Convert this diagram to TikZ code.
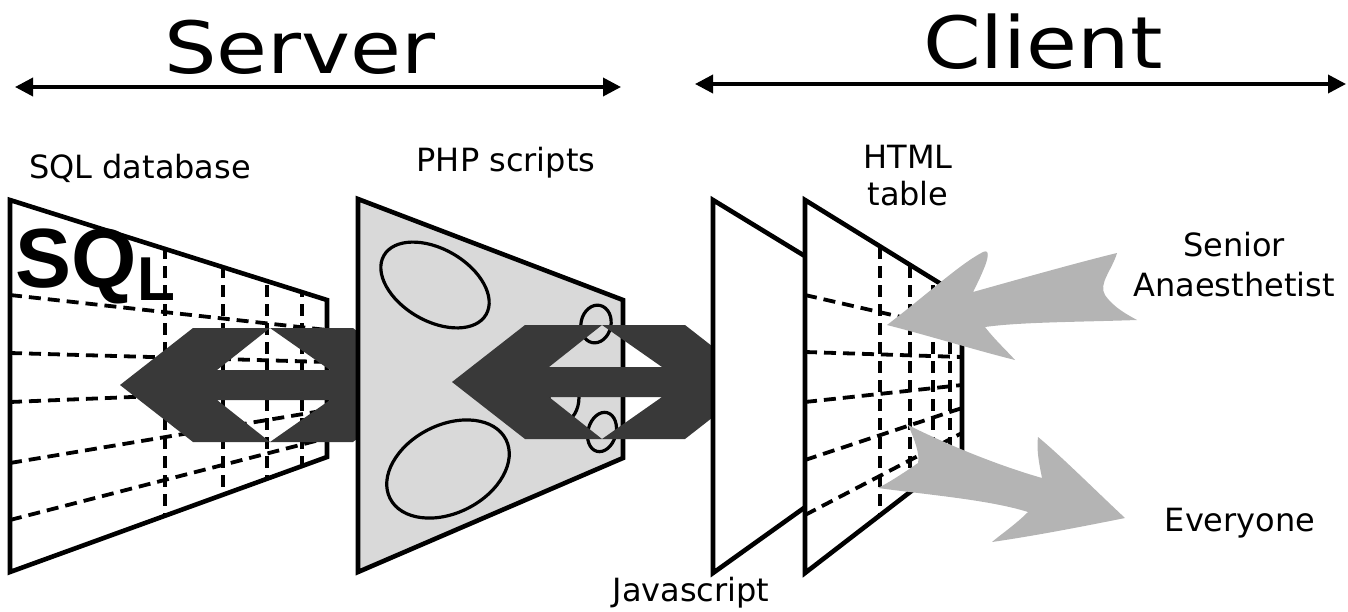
\documentclass[tikz,border=0pt]{standalone}
\usepackage{fontspec}
\setmainfont{DejaVu Sans}
\newfontfamily\headfont[FakeStretch=1.15]{DejaVu Sans}
\newfontfamily\logofont{Liberation Sans}
\usetikzlibrary{arrows.meta}
\definecolor{phpgray}{HTML}{D9D9D9}
\definecolor{darkarrow}{HTML}{393939}
\definecolor{lightarrow}{HTML}{B4B4B4}
\tikzset{
  twinarrow/.pic={
    \fill[darkarrow] (0,0) -- (73,-57) -- (150,-57) -- (97,-15) -- (210,-15) -- (150,-57)
      -- (233,-57) -- (306,0) -- (233,57) -- (150,57) -- (210,15) -- (97,15) -- (150,57)
      -- (73,57) -- cycle;
  }
}
\begin{document}
\begin{tikzpicture}[x=0.5pt,y=-0.5pt,
    panel/.style={draw=black,line width=2.3pt,line join=miter},
    gridline/.style={dash pattern=on 6pt off 3.5pt,line width=1.9pt},
    ring/.style={line width=1.6pt},
    label/.style={font=\fontsize{16}{19}\selectfont,align=center},
    span/.style={{Triangle[length=9pt,width=9pt]}-{Triangle[length=9pt,width=9pt]},line width=1.8pt}]
  \useasboundingbox (0,0) rectangle (1348,611);
  %% SQL database
  \fill[white] (10,200) -- (327,300) -- (327,457) -- (10,572) -- cycle;
  \begin{scope}
    \clip (10,200) -- (327,300) -- (327,457) -- (10,572) -- cycle;
    \foreach \l/\r in {295/330,353/362,402/389,463/410,520/438}
      \draw[gridline] (10,\l) -- (327,\r);
    \foreach \x in {165,223,267,302}
      \draw[gridline] (\x,190) -- (\x,580);
  \end{scope}
  \draw[panel] (10,200) -- (327,300) -- (327,457) -- (10,572) -- cycle;
  \node[anchor=base west,inner sep=0pt,font=\logofont\bfseries\fontsize{42}{42}\selectfont] (sqlSQ) at (15,287) {SQ};
  \node[anchor=base west,inner sep=0pt,font=\logofont\bfseries\fontsize{31}{31}\selectfont] (sqlL) at (137,300) {L};
  \pic at (120,385) {twinarrow};
  %% PHP scripts
  \draw[panel,fill=phpgray] (358,199) -- (623,300) -- (623,458) -- (358,572) -- cycle;
  \draw[ring,rotate around={-30:(435,285)}] (435,285) ellipse [x radius=59,y radius=36];
  \draw[ring,rotate around={27:(448,469)}] (448,469) ellipse [x radius=65,y radius=44];
  \draw[ring,rotate around={-12:(596,324)}] (596,324) ellipse [x radius=15,y radius=19];
  \draw[ring,rotate around={-15:(602,432)}] (602,432) ellipse [x radius=14,y radius=20];
  \draw[ring] (564,397) ellipse [x radius=15,y radius=24];
  \pic at (452,382) {twinarrow};
  %% Javascript and HTML table
  \draw[panel,fill=white] (713,200) -- (885,305) -- (885,450) -- (713,573) -- cycle;
  \fill[white] (805,200) -- (962,297) -- (962,452) -- (805,573) -- cycle;
  \begin{scope}
    \clip (805,200) -- (962,297) -- (962,452) -- (805,573) -- cycle;
    \foreach \l/\r in {295/331,352/357,402/385,460/408,515/433}
      \draw[gridline] (805,\l) -- (962,\r);
    \foreach \x in {880,910,933,950}
      \draw[gridline] (\x,190) -- (\x,580);
  \end{scope}
  \draw[panel] (805,200) -- (962,297) -- (962,452) -- (805,573) -- cycle;
  %% Users
  \fill[lightarrow] (887,325) .. controls (930,292) and (960,264) .. (983,252)
    .. controls (990,249) and (988,258) .. (985,266) .. controls (980,278) .. (973,292)
    .. controls (1030,276) and (1080,262) .. (1117,253)
    .. controls (1112,270) and (1098,284) .. (1105,295)
    .. controls (1114,308) and (1128,315) .. (1137,320)
    .. controls (1080,322) and (1020,322) .. (985,327)
    .. controls (995,340) and (1008,352) .. (1015,360)
    .. controls (975,350) and (930,336) .. cycle;
  \fill[lightarrow] (908,425) .. controls (915,440) and (920,455) .. (918,463)
    .. controls (905,472) and (890,482) .. (878,488)
    .. controls (930,495) and (990,500) .. (1028,512)
    .. controls (1015,525) and (1000,535) .. (992,542)
    .. controls (1040,535) and (1090,525) .. (1125,518)
    .. controls (1095,490) and (1060,455) .. (1038,437)
    .. controls (1036,450) and (1040,468) .. (1042,478)
    .. controls (1000,466) and (950,446) .. cycle;
  %% Labels
  \node[font=\headfont\fontsize{36}{40}\selectfont] (server) at (300,47) {Server};
  \node[font=\headfont\fontsize{36}{40}\selectfont] (client) at (1043,42) {Client};
  \coordinate (srvL) at (15,87);
  \coordinate (srvR) at (621,87);
  \coordinate (cliL) at (695,84);
  \coordinate (cliR) at (1346,84);
  \draw[span] (srvL) -- (srvR);
  \draw[span] (cliL) -- (cliR);
  \node[label] (sqllbl) at (140,168) {SQL database};
  \node[label] (phplbl) at (506,163) {PHP scripts};
  \node[label,font=\fontsize{16}{18.5}\selectfont] (htmllbl) at (908,176) {HTML\\table};
  \node[label,font=\fontsize{16}{20}\selectfont] (seniorlbl) at (1234,265) {Senior\\Anaesthetist};
  \node[label] (everyonelbl) at (1240,523) {Everyone};
  \node[label,inner sep=1pt] (jslbl) at (691,593) {Javascript};
\end{tikzpicture}
\end{document}
